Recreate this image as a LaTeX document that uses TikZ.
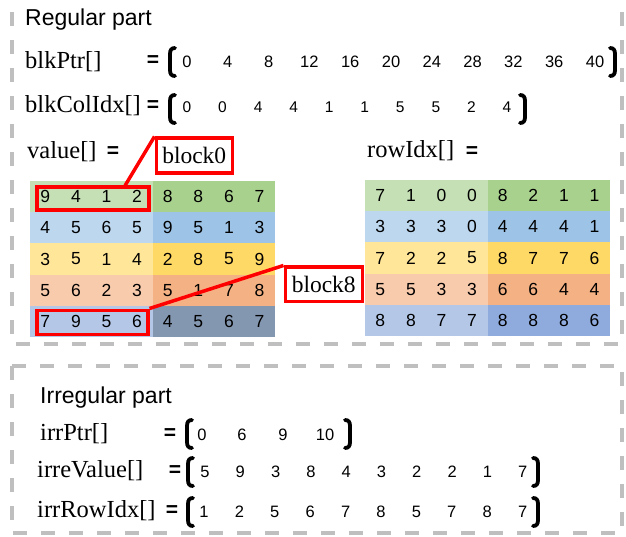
\documentclass[tikz,border=0pt]{standalone}
\usepackage{fontspec}
\setmainfont{Liberation Serif}
\setsansfont{Liberation Sans}
\usetikzlibrary{calc}

\definecolor{frameGray}{HTML}{BFBFBF}
\definecolor{gL}{HTML}{C5E0B4}
\definecolor{gR}{HTML}{A9D18E}
\definecolor{bL}{HTML}{BDD7EE}
\definecolor{bR}{HTML}{9DC3E6}
\definecolor{yL}{HTML}{FFE699}
\definecolor{yR}{HTML}{FFD966}
\definecolor{oL}{HTML}{F8CBAD}
\definecolor{oR}{HTML}{F4B183}
\definecolor{sL}{HTML}{B4C7E7}
\definecolor{sR}{HTML}{8497B0}
\definecolor{sRb}{HTML}{8FAADC}
\definecolor{hlRed}{HTML}{FF0000}

\tikzset{
  frame/.style={draw=frameGray, line width=4pt, dash pattern=on 14pt off 14pt},
  title/.style={anchor=base west, inner sep=0pt, font=\sffamily\fontsize{23}{23}\selectfont},
  arrlabel/.style={anchor=base west, inner sep=0pt, font=\fontsize{24.5}{24.5}\selectfont},
  eqsign/.style={anchor=base, inner sep=0pt, font=\sffamily\bfseries\fontsize{21}{21}\selectfont},
  num/.style={anchor=base, inner sep=0pt, font=\sffamily\fontsize{16.5}{16.5}\selectfont},
  smallnum/.style={anchor=base, inner sep=0pt, font=\sffamily\fontsize{15.5}{15.5}\selectfont},
  cellnum/.style={inner sep=0pt, font=\sffamily\fontsize{17.5}{17.5}\selectfont},
  redbox/.style={draw=hlRed, line width=3.5pt},
  redline/.style={draw=hlRed, line width=3.5pt},
  tag/.style={redbox, fill=white, inner sep=0pt, anchor=north west,
    font=\fontsize{23.5}{23.5}\selectfont},
  parstroke/.style={line width=3.8pt, line cap=round},
  pics/lpar/.style={code={\draw[parstroke] (5,-14) .. controls (1.5,-14) and (0,-12) .. (0,-8) -- (0,8) .. controls (0,12) and (1.5,14) .. (5,14);}},
  pics/rpar/.style={code={\draw[parstroke] (-5,-14) .. controls (-1.5,-14) and (0,-12) .. (0,-8) -- (0,8) .. controls (0,12) and (-1.5,14) .. (-5,14);}}
}

\begin{document}
\begin{tikzpicture}[x=1pt,y=-1pt]
\useasboundingbox (0,0) rectangle (626,537);

% dashed frames
\begin{scope}
  \clip (0,0) rectangle (626,537);
  \draw[frame] (12,-16) -- (12,344) -- (622,344) -- (622,-16);
\end{scope}
\draw[frame] (12,366) rectangle (622,533);

% ---------- regular part ----------
\node[title] (regtitle) at (25,26) {Regular part};

\node[arrlabel] (lblPtr) at (25,69) {blkPtr[]};
\node[eqsign] (eqPtr) at (153,67) {=};
\pic at (170,62) {lpar};
\foreach \v [count=\i from 0] in {0,4,8,12,16,20,24,28,32,36,40}
  \node[num] (bp\i) at ({187+40.8*\i},67.5) {\v};
\pic at (615,62) {rpar};

\node[arrlabel] (lblCol) at (25,113) {blkColIdx[]};
\node[eqsign] (eqCol) at (153,112) {=};
\pic at (170,109) {lpar};
\foreach \v [count=\i from 0] in {0,0,4,4,1,1,5,5,2,4}
  \node[smallnum] (bc\i) at ({187+35.55*\i},112.5) {\v};
\pic at (525,109) {rpar};

\node[arrlabel] (lblVal) at (27,159) {value[]};
\node[eqsign] (eqVal) at (113,158) {=};
\node[arrlabel] (lblRow) at (367,158) {rowIdx[]};
\node[eqsign] (eqRow) at (472,158) {=};

% value matrix
\foreach \r/\cl/\cr in {1/gL/gR, 2/bL/bR, 3/yL/yR, 4/oL/oR, 5/sL/sR} {
  \fill[\cl] (30,{181+31.2*(\r-1)}) rectangle (153.5,{181+31.2*\r});
  \fill[\cr] (153,{181+31.2*(\r-1)}) rectangle (275,{181+31.2*\r});
}
\foreach \row [count=\r] in {{9,4,1,2,8,8,6,7},{4,5,6,5,9,5,1,3},{3,5,1,4,2,8,5,9},{5,6,2,3,5,1,7,8},{7,9,5,6,4,5,6,7}}
  \foreach \v [count=\c] in \row
    \node[cellnum] (v-\r-\c) at ({30+30.6*(\c-0.5)},{181+31.2*(\r-0.5)}) {\v};

% rowIdx matrix
\foreach \r/\cl/\cr in {1/gL/gR, 2/bL/bR, 3/yL/yR, 4/oL/oR, 5/sL/sRb} {
  \fill[\cl] (365,{180+31.2*(\r-1)}) rectangle (488,{180+31.2*\r});
  \fill[\cr] (487.5,{180+31.2*(\r-1)}) rectangle (610,{180+31.2*\r});
}
\foreach \row [count=\r] in {{7,1,0,0,8,2,1,1},{3,3,3,0,4,4,4,1},{7,2,2,5,8,7,7,6},{5,5,3,3,6,6,4,4},{8,8,7,7,8,8,8,6}}
  \foreach \v [count=\c] in \row
    \node[cellnum] (r-\r-\c) at ({365+30.6*(\c-0.5)},{180+31.2*(\r-0.5)}) {\v};

% highlighted blocks and their tags
\node[redbox, anchor=north west, minimum width=112, minimum height=23, inner sep=0pt] (hl0) at (35,185.5) {};
\node[redbox, anchor=north west, minimum width=111, minimum height=24, inner sep=0pt] (hl8) at (35,308.5) {};
\node[tag, minimum width=76, minimum height=35] (blk0) at (154.5,136.5) {block0};
\node[tag, minimum width=77, minimum height=34] (blk8) at (283.5,265.5) {block8};
\draw[redline] ($(hl0.north west)!0.78!(hl0.north east)$) -- (blk0.north west);
\draw[redline] (hl8.north east) -- (blk8.north west);

% ---------- irregular part ----------
\node[title] (irrtitle) at (40,403) {Irregular part};

\node[arrlabel] (lblIPtr) at (40,440) {irrPtr[]};
\node[eqsign] (eqIPtr) at (170,439) {=};
\pic at (187,434) {lpar};
\foreach \v/\x [count=\i] in {0/202,6/242,9/283,10/325}
  \node[num] (ip\i) at (\x,440) {\v};
\pic at (350,434) {rpar};

\node[arrlabel] (lblIVal) at (37,477) {irreValue[]};
\node[eqsign] (eqIVal) at (175,476) {=};
\pic at (188,472) {lpar};
\foreach \v [count=\i from 0] in {5,9,3,8,4,3,2,2,1,7}
  \node[num] (iv\i) at ({205+35.3*\i},477) {\v};
\pic at (538,472) {rpar};

\node[arrlabel] (lblIRow) at (37,517) {irrRowIdx[]};
\node[eqsign] (eqIRow) at (172,516) {=};
\pic at (188,512) {lpar};
\foreach \v [count=\i from 0] in {1,2,5,6,7,8,5,7,8,7}
  \node[num] (ir\i) at ({204+35.4*\i},517) {\v};
\pic at (538,512) {rpar};
\end{tikzpicture}
\end{document}
